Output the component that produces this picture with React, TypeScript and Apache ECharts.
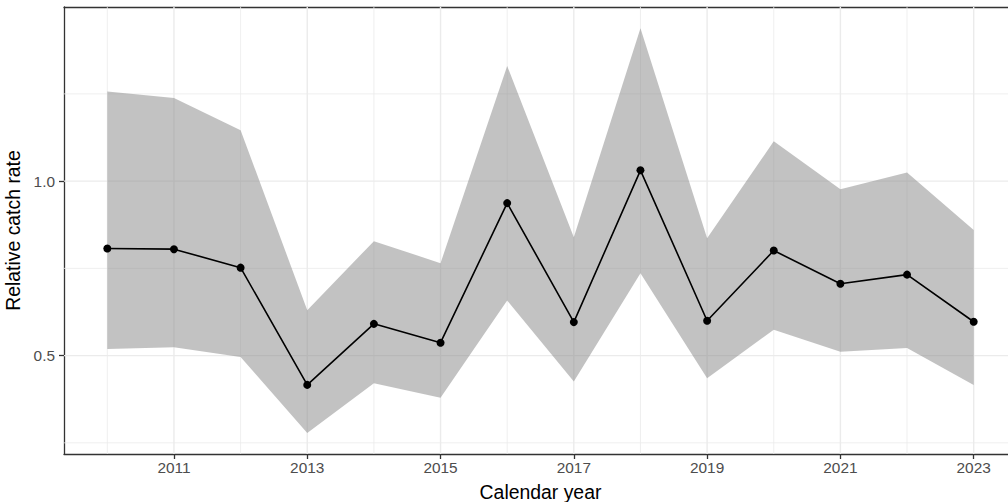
import React, { useEffect, useRef } from "react";
import * as echarts from "echarts";

const years = [2010, 2011, 2012, 2013, 2014, 2015, 2016, 2017, 2018, 2019, 2020, 2021, 2022, 2023];
const rate = [0.807, 0.805, 0.752, 0.416, 0.591, 0.537, 0.937, 0.596, 1.031, 0.6, 0.801, 0.706, 0.732, 0.597];
const lower = [0.519, 0.524, 0.496, 0.278, 0.421, 0.379, 0.658, 0.426, 0.736, 0.435, 0.574, 0.511, 0.522, 0.416];
const upper = [1.257, 1.238, 1.146, 0.63, 0.828, 0.765, 1.33, 0.839, 1.438, 0.836, 1.114, 0.977, 1.025, 0.86];

const xTicks = [2011, 2013, 2015, 2017, 2019, 2021, 2023];
const xMinor = [2010, 2012, 2014, 2016, 2018, 2020, 2022];
const yTicks = [0.5, 1.0];
const yMinor = [0.25, 0.75, 1.25];

const X_MIN = 2009.35;
const X_MAX = 2023.65;
const Y_MIN = 0.218;
const Y_MAX = 1.499;

const FONT = "Liberation Sans, Arial, Helvetica, sans-serif";

export default function App() {
  const ref = useRef<HTMLDivElement>(null);
  useEffect(() => {
    if (!ref.current) return;
    const chart = echarts.init(ref.current, undefined, { renderer: "svg" });
    const border = { show: true, onZero: false, lineStyle: { color: "#333333", width: 1.3 } };
    chart.setOption({
      animation: false,
      textStyle: { fontFamily: FONT },
      grid: {
        left: 64,
        top: 7,
        width: 953,
        bottom: 48,
        show: false,
        containLabel: false,
        outerBoundsMode: "none",
      },
      xAxis: [
        {
          type: "value",
          position: "bottom",
          min: X_MIN,
          max: X_MAX,
          name: "Calendar year",
          nameLocation: "middle",
          nameGap: 28,
          nameTextStyle: { color: "#000", fontSize: 19.4, fontFamily: FONT },
          axisLine: border,
          axisTick: { show: true, length: 5, lineStyle: { color: "#333333", width: 1.3 }, customValues: xTicks },
          axisLabel: {
            color: "#4d4d4d",
            fontSize: 15.4,
            margin: 6,
            fontFamily: FONT,
            customValues: xTicks,
            formatter: (v: number) => String(v),
          },
          splitLine: { show: false },
          minorSplitLine: { show: false },
        },
        {
          type: "value",
          position: "top",
          min: X_MIN,
          max: X_MAX,
          axisLine: border,
          axisTick: { show: false },
          axisLabel: { show: false },
          splitLine: { show: false },
        },
      ],
      yAxis: {
        type: "value",
        min: Y_MIN,
        max: Y_MAX,
        name: "Relative catch rate",
        nameLocation: "middle",
        nameGap: 26,
        nameTextStyle: { color: "#000", fontSize: 19.4, fontFamily: FONT },
        axisLine: border,
        axisTick: { show: true, length: 5, lineStyle: { color: "#333333", width: 1.3 }, customValues: yTicks },
        axisLabel: {
          color: "#4d4d4d",
          fontSize: 15.4,
          margin: 9,
          fontFamily: FONT,
          customValues: yTicks,
          formatter: (v: number) => v.toFixed(1),
        },
        splitLine: { show: false },
        minorSplitLine: { show: false },
      },
      series: [
        {
          type: "custom",
          name: "gridlines",
          data: [[years[0], yTicks[0]]],
          silent: true,
          z: 1,
          renderItem: (params: any, api: any) => {
            if (params.dataIndex !== 0) return null;
            const children: any[] = [];
            const vline = (x: number, w: number) => {
              const a = api.coord([x, Y_MIN]);
              const b = api.coord([x, Y_MAX]);
              children.push({
                type: "line",
                shape: { x1: a[0], y1: a[1], x2: b[0], y2: b[1] },
                style: { stroke: "#ebebeb", lineWidth: w },
              });
            };
            const hline = (y: number, w: number) => {
              const a = api.coord([X_MIN, y]);
              const b = api.coord([X_MAX, y]);
              children.push({
                type: "line",
                shape: { x1: a[0], y1: a[1], x2: b[0], y2: b[1] },
                style: { stroke: "#ebebeb", lineWidth: w },
              });
            };
            xMinor.forEach((v) => vline(v, 0.8));
            yMinor.forEach((v) => hline(v, 0.8));
            xTicks.forEach((v) => vline(v, 1.4));
            yTicks.forEach((v) => hline(v, 1.4));
            return { type: "group", children };
          },
        },
        {
          type: "custom",
          name: "band",
          data: years.map((y, i) => [y, lower[i], upper[i]]),
          encode: { x: 0, y: [1, 2] },
          silent: true,
          z: 2,
          renderItem: (params: any, api: any) => {
            if (params.dataIndex !== 0) return null;
            const pts: number[][] = [];
            for (let i = 0; i < years.length; i++) pts.push(api.coord([years[i], upper[i]]));
            for (let i = years.length - 1; i >= 0; i--) pts.push(api.coord([years[i], lower[i]]));
            return {
              type: "polygon",
              shape: { points: pts },
              style: { fill: "rgba(133,133,133,0.5)", stroke: "none" },
            };
          },
        },
        {
          type: "line",
          name: "rate",
          data: years.map((y, i) => [y, rate[i]]),
          symbol: "circle",
          symbolSize: 8,
          itemStyle: { color: "#000" },
          lineStyle: { color: "#000", width: 1.6 },
          z: 3,
        },
      ],
    });
    return () => chart.dispose();
  }, []);
  return (
    <div
      style={{
        position: "absolute",
        left: 0,
        top: 0,
        width: 1008,
        height: 502,
        overflow: "hidden",
        background: "#fff",
      }}
    >
      <div ref={ref} style={{ width: 1040, height: 502 }} />
    </div>
  );
}
